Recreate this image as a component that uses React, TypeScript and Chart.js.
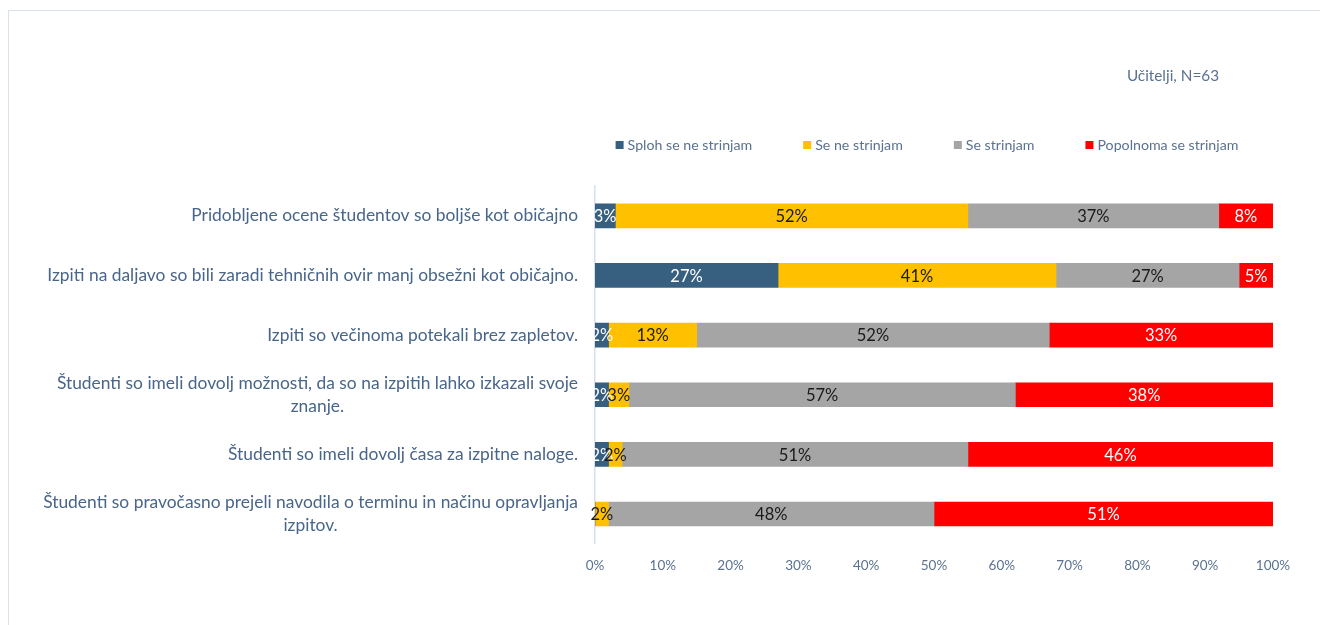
import React, { useEffect, useRef } from "react";
import { Chart, registerables } from "chart.js";

Chart.register(...registerables);

const categories: string[][] = [
  ["Pridobljene ocene študentov so boljše kot običajno"],
  ["Izpiti na daljavo so bili zaradi tehničnih ovir manj obsežni kot običajno."],
  ["Izpiti so večinoma potekali brez zapletov."],
  ["Študenti so imeli dovolj možnosti, da so na izpitih lahko izkazali svoje", "znanje."],
  ["Študenti so imeli dovolj časa za izpitne naloge."],
  ["Študenti so pravočasno prejeli navodila o terminu in načinu opravljanja", "izpitov."],
];

const seriesNames = ["Sploh se ne strinjam", "Se ne strinjam", "Se strinjam", "Popolnoma se strinjam"];
const seriesColors = ["#375F80", "#FFC000", "#A5A5A5", "#FF0000"];
const labelColors = ["#FFFFFF", "#1A1A1A", "#1A1A1A", "#FFFFFF"];

const splohSeNeStrinjam = [3, 27, 2, 2, 2, 0];
const seNeStrinjam = [52, 41, 13, 3, 2, 2];
const seStrinjam = [37, 27, 52, 57, 51, 48];
const popolnomaSeStrinjam = [8, 5, 33, 38, 46, 51];

const xTickValues = [0, 10, 20, 30, 40, 50, 60, 70, 80, 90, 100];
const subtitle = "Učitelji, N=63";

const FONT = "Lato, 'Open Sans', sans-serif";
const TEXT_COLOR = "#48658A";
const LIGHT_TEXT = "#5A7290";

const overlayPlugin = {
  id: "overlay",
  afterDatasetsDraw(chart: any) {
    const ctx = chart.ctx;
    const area = chart.chartArea;
    ctx.save();
    ctx.font = `16.5px ${FONT}`;
    ctx.textAlign = "center";
    ctx.textBaseline = "middle";
    chart.data.datasets.forEach((ds: any, di: number) => {
      const meta = chart.getDatasetMeta(di);
      meta.data.forEach((el: any, i: number) => {
        const v = ds.data[i];
        if (!v) return;
        const x1 = Math.min(el.x, area.right);
        const x0 = Math.min(el.base, area.right);
        ctx.fillStyle = labelColors[di];
        ctx.fillText(v + "%", (x0 + x1) / 2, el.y + 1);
      });
    });
    ctx.restore();
  },
  afterDraw(chart: any) {
    const ctx = chart.ctx;
    const area = chart.chartArea;
    const yScale = chart.scales.y;
    ctx.save();
    // category labels
    ctx.font = `17.4px ${FONT}`;
    ctx.fillStyle = TEXT_COLOR;
    ctx.textBaseline = "middle";
    ctx.textAlign = "center";
    const lineH = 23;
    categories.forEach((lines, i) => {
      const cy = yScale.getPixelForTick(i);
      const widths = lines.map((l) => ctx.measureText(l).width);
      const blockW = Math.max(...widths);
      const right = area.left - 17;
      const cx = right - blockW / 2;
      const startY = cy - ((lines.length - 1) * lineH) / 2;
      lines.forEach((l, li) => ctx.fillText(l, cx, startY + li * lineH));
    });
    // legend
    ctx.font = `14.2px ${FONT}`;
    ctx.textAlign = "left";
    const box = 8;
    const gapBox = 4;
    const gapItem = 51;
    const ws = seriesNames.map((n) => ctx.measureText(n).width);
    const total = ws.reduce((a, w) => a + box + gapBox + w, 0) + gapItem * (seriesNames.length - 1);
    let x = (area.left + area.right) / 2 - 7 - total / 2;
    const ly = area.top - 41;
    seriesNames.forEach((n, i) => {
      ctx.fillStyle = seriesColors[i];
      ctx.fillRect(x, ly - box / 2, box, box);
      ctx.fillStyle = LIGHT_TEXT;
      ctx.fillText(n, x + box + gapBox, ly);
      x += box + gapBox + ws[i] + gapItem;
    });
    // subtitle
    ctx.font = `15.3px ${FONT}`;
    ctx.textAlign = "right";
    ctx.fillStyle = LIGHT_TEXT;
    ctx.fillText(subtitle, area.right - 54, area.top - 110);
    ctx.restore();
  },
};

export default function App() {
  const ref = useRef<HTMLCanvasElement>(null);
  useEffect(() => {
    if (!ref.current) return;
    const values = [splohSeNeStrinjam, seNeStrinjam, seStrinjam, popolnomaSeStrinjam];
    const chart = new Chart(ref.current, {
      type: "bar",
      data: {
        labels: categories.map((c) => c.join(" ")),
        datasets: seriesNames.map((name, i) => ({
          label: name,
          data: values[i],
          backgroundColor: seriesColors[i],
          borderWidth: 0,
          barThickness: 24,
        })),
      },
      options: {
        indexAxis: "y",
        responsive: false,
        animation: false,
        layout: { padding: { top: 175, right: 48, bottom: 43, left: 0 } },
        plugins: {
          legend: { display: false },
          tooltip: { enabled: false },
        },
        scales: {
          x: {
            stacked: true,
            min: 0,
            max: 100,
            afterBuildTicks: (scale: any) => {
              scale.ticks = xTickValues.map((v) => ({ value: v }));
            },
            grid: { display: false, drawTicks: false },
            border: { display: false },
            ticks: {
              padding: 14,
              color: LIGHT_TEXT,
              font: { family: FONT, size: 13.5 },
              callback: (v: any) => v + "%",
            },
          },
          y: {
            stacked: true,
            grid: { display: false, drawTicks: false },
            border: { display: true, color: "#D6E0EC", width: 1.5 },
            ticks: { display: false },
            afterFit: (scale: any) => {
              scale.width = 586;
            },
          },
        },
      },
      plugins: [overlayPlugin],
    });
    return () => chart.destroy();
  }, []);
  return (
    <div
      style={{
        position: "relative",
        top: 2,
        width: 1312,
        height: 620,
        border: "1px solid #D9E1EA",
        background: "#fff",
      }}
    >
      <canvas ref={ref} width={1312} height={620} style={{ display: "block" }} />
    </div>
  );
}
